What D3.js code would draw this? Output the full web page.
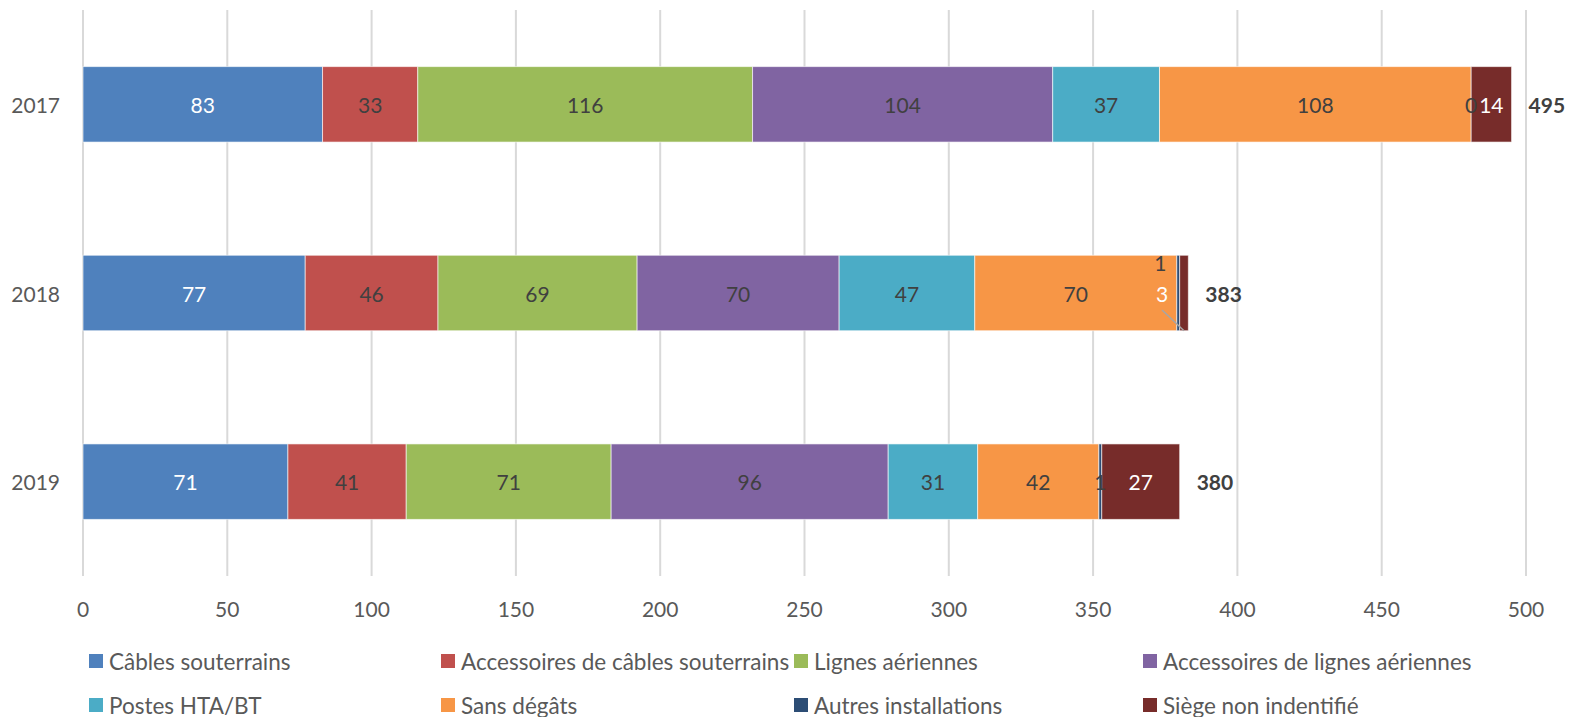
<!DOCTYPE html>
<html>
<head>
<meta charset="utf-8">
<script src="https://cdn.jsdelivr.net/npm/d3@7"></script>
<style>
  html, body { margin: 0; padding: 0; background: #fff; }
  svg { display: block; font-family: Lato, "Open Sans", sans-serif; }
</style>
</head>
<body>
<svg id="chart" width="1569" height="717"></svg>
<script>
// Years shown on the vertical axis, top to bottom.
const YEARS = ['2017', '2018', '2019'];

const SERIES = [
  'Câbles souterrains',
  'Accessoires de câbles souterrains',
  'Lignes aériennes',
  'Accessoires de lignes aériennes',
  'Postes HTA/BT',
  'Sans dégâts',
  'Autres installations',
  'Siège non indentifié',
];

// One array per series, in YEARS order.
const CABLES = [83, 77, 71];
const ACC_CABLES = [33, 46, 41];
const LIGNES = [116, 69, 71];
const ACC_LIGNES = [104, 70, 96];
const POSTES = [37, 47, 31];
const SANS_DEGATS = [108, 70, 42];
const AUTRES = [0, 1, 1];
const SIEGE = [14, 3, 27];

const X_TICKS = [0, 50, 100, 150, 200, 250, 300, 350, 400, 450, 500];

const COLORS = ['#4F81BD', '#C0504D', '#9BBB59', '#8064A2',
  '#4BACC6', '#F79646', '#2C4D75', '#772C2A'];
// Label colour per series (white on the darker fills).
const LABEL_COLORS = ['#fff', '#404040', '#404040', '#404040',
  '#404040', '#404040', '#404040', '#fff'];

const seriesValues = [CABLES, ACC_CABLES, LIGNES, ACC_LIGNES,
  POSTES, SANS_DEGATS, AUTRES, SIEGE];

const svg = d3.select('#chart');
const margin = {left: 83, right: 43, top: 10, bottom: 141};
const width = 1569 - margin.left - margin.right;
const height = 717 - margin.top - margin.bottom;

const x = d3.scaleLinear().domain([0, 500]).range([0, width]);
const y = d3.scaleBand().domain(YEARS).range([0, height])
    .paddingInner(0.6).paddingOuter(0.3);

const g = svg.append('g')
    .attr('transform', `translate(${margin.left},${margin.top})`);

// Vertical grid lines.
g.append('g')
    .selectAll('line')
    .data(X_TICKS)
    .join('line')
    .attr('x1', d => x(d)).attr('x2', d => x(d))
    .attr('y1', 0).attr('y2', height)
    .attr('stroke', '#d9d9d9')
    .attr('stroke-width', 2);

// Build stacked rows.
const rows = YEARS.map((year, i) => {
  const row = {year};
  SERIES.forEach((s, k) => { row[s] = seriesValues[k][i]; });
  return row;
});
const stacked = d3.stack().keys(SERIES)(rows);

const layers = g.append('g')
    .selectAll('g')
    .data(stacked)
    .join('g')
    .attr('fill', (d, k) => COLORS[k]);

layers.selectAll('rect')
    .data(d => d)
    .join('rect')
    .attr('x', d => x(d[0]))
    .attr('y', d => y(d.data.year))
    .attr('width', d => x(d[1]) - x(d[0]))
    .attr('height', y.bandwidth())
    .attr('stroke', 'rgba(255,255,255,0.6)')
    .attr('stroke-width', 1);

// Data labels. Small segments in 2018 are pushed aside like the original.
const labelG = g.append('g')
    .attr('font-size', 21)
    .attr('text-anchor', 'middle')
    .attr('dominant-baseline', 'central');

stacked.forEach((layer, k) => {
  layer.forEach((d, i) => {
    const year = YEARS[i];
    let cx = (x(d[0]) + x(d[1])) / 2;
    let cy = y(year) + y.bandwidth() / 2;
    const color = LABEL_COLORS[k];
    if (year === '2018' && SERIES[k] === 'Autres installations') {
      cx -= 18;
      cy -= 31;
    }
    if (year === '2018' && SERIES[k] === 'Siège non indentifié') {
      const tx = cx - 22;
      labelG.append('line')
          .attr('x1', tx).attr('y1', cy + 17)
          .attr('x2', cx).attr('y2', y(year) + y.bandwidth())
          .attr('stroke', '#a6a6a6')
          .attr('stroke-width', 1.5);
      cx = tx;
    }
    labelG.append('text')
        .attr('x', cx)
        .attr('y', cy)
        .attr('fill', color)
        .text(d[1] - d[0]);
  });
});

// Totals at the end of each bar.
const totals = rows.map(r => ({year: r.year, total: d3.sum(SERIES, s => r[s])}));
g.append('g')
    .selectAll('text')
    .data(totals)
    .join('text')
    .attr('x', d => x(d.total) + 17)
    .attr('y', d => y(d.year) + y.bandwidth() / 2)
    .attr('dominant-baseline', 'central')
    .attr('font-size', 21)
    .attr('font-weight', 'bold')
    .attr('fill', '#404040')
    .text(d => d.total);

// Category labels.
g.append('g')
    .selectAll('text')
    .data(YEARS)
    .join('text')
    .attr('x', -23)
    .attr('y', d => y(d) + y.bandwidth() / 2)
    .attr('text-anchor', 'end')
    .attr('dominant-baseline', 'central')
    .attr('font-size', 21)
    .attr('fill', '#595959')
    .text(d => d);

// X axis tick labels.
g.append('g')
    .selectAll('text')
    .data(X_TICKS)
    .join('text')
    .attr('x', d => x(d))
    .attr('y', height + 32)
    .attr('text-anchor', 'middle')
    .attr('dominant-baseline', 'central')
    .attr('font-size', 21)
    .attr('fill', '#595959')
    .text(d => d);

// Legend: two rows of four.
const legendCols = [89, 441, 794, 1143];
const legendRows = [661, 705];
const legend = svg.append('g')
    .selectAll('g')
    .data(SERIES)
    .join('g')
    .attr('transform', (d, k) =>
      `translate(${legendCols[k % 4]},${legendRows[Math.floor(k / 4)]})`);
legend.append('rect')
    .attr('x', 0).attr('y', -7)
    .attr('width', 14).attr('height', 14)
    .attr('fill', (d, k) => COLORS[k]);
legend.append('text')
    .attr('x', 20)
    .attr('y', 0)
    .attr('dominant-baseline', 'central')
    .attr('font-size', 22.5)
    .attr('fill', '#595959')
    .text(d => d);
</script>
</body>
</html>
